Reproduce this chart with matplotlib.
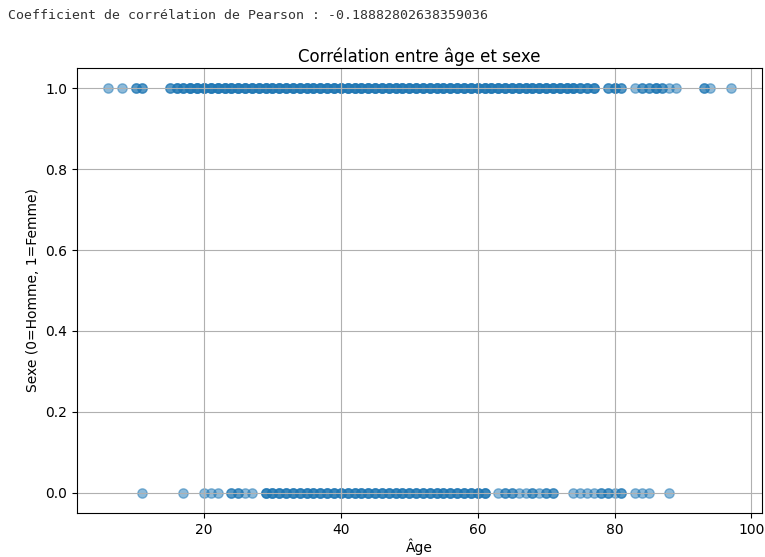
import numpy as np
import matplotlib
matplotlib.use("Agg")
import matplotlib.pyplot as plt

# Ages observed for women (sexe = 1) and how many people share each age
femme_ages = [6, 8, 10, 11] + list(range(15, 78)) + [79, 80, 81, 83, 84, 85, 86, 87, 88, 89, 93, 94, 97]
femme_counts = [1, 1, 2, 2] + [2, 3, 3] + [4] * 57 + [3, 3, 3] + [2, 3, 2, 1, 2, 2, 3, 2, 1, 1, 2, 1, 1]

# Ages observed for men (sexe = 0)
homme_ages = [11, 17, 20, 21, 22, 24, 25, 26, 27] + list(range(29, 62)) + \
    [63, 64, 65, 66, 67, 68, 69, 70, 71, 74, 75, 76, 77, 78, 79, 80, 81, 83, 84, 85, 88]
homme_counts = [1, 1, 1, 1, 1, 2, 2, 1, 1] + [3] * 33 + \
    [1, 2, 2, 1, 1, 2, 1, 2, 2, 1, 1, 1, 1, 2, 2, 1, 2, 1, 1, 1, 1]

pearson_r = -0.18882802638359036

ages = np.concatenate([np.repeat(femme_ages, femme_counts), np.repeat(homme_ages, homme_counts)])
sexe = np.concatenate([np.ones(sum(femme_counts)), np.zeros(sum(homme_counts))])

fig = plt.figure(figsize=(7.65, 5.57), dpi=100)
fig.text(0.011, 0.972, f"Coefficient de corrélation de Pearson : {pearson_r}",
         family="DejaVu Sans Mono", fontsize=9.5, color="#333333", va="center")

ax = fig.add_axes([0.1007, 0.079, 0.8954, 0.799])
ax.scatter(ages, sexe, alpha=0.5, s=45)
ax.set_title("Corrélation entre âge et sexe", pad=4)
ax.set_xlabel("Âge", labelpad=1)
ax.set_ylabel("Sexe (0=Homme, 1=Femme)")
ax.grid(True)

fig.savefig("out.png", dpi=100)
